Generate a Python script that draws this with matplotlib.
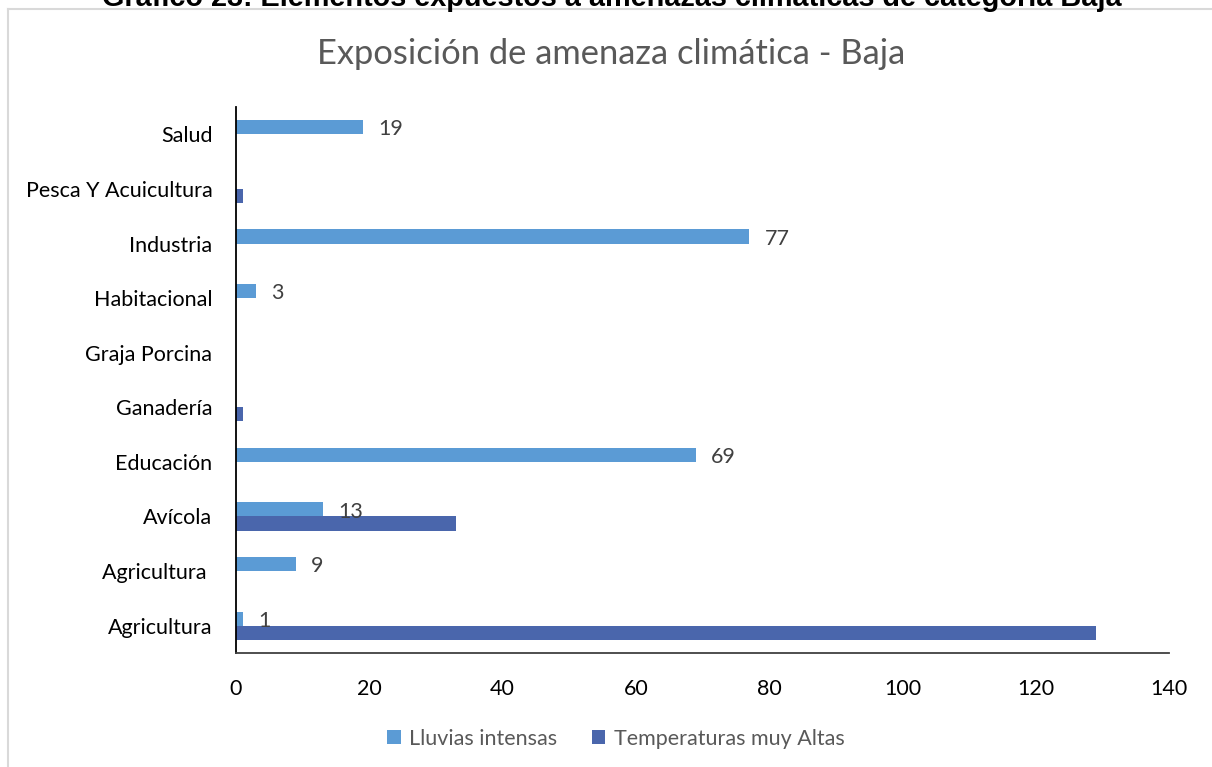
import numpy as np
import matplotlib
matplotlib.use("Agg")
import matplotlib.pyplot as plt
from matplotlib.lines import Line2D
from matplotlib.patches import Patch

categories = ["Agricultura", "Agricultura ", "Avícola", "Educación", "Ganadería",
              "Graja Porcina", "Habitacional", "Industria", "Pesca Y Acuicultura", "Salud"]
lluvias = [1, 9, 13, 69, np.nan, np.nan, 3, 77, np.nan, 19]
temperaturas = [129, np.nan, 33, np.nan, 1, np.nan, np.nan, np.nan, 1, np.nan]
xticks = [0, 20, 40, 60, 80, 100, 120, 140]
series_names = ["Lluvias intensas", "Temperaturas muy Altas"]
chart_title = "Exposición de amenaza climática - Baja"
doc_title = "Gráfico 23: Elementos expuestos a amenazas climáticas de categoría Baja"

c_light = "#5B9BD5"
c_dark = "#4A66AC"
FS = 15.5

W, H = 1212, 767
fig = plt.figure(figsize=(W / 100, H / 100), dpi=100)
fig.patch.set_facecolor("white")

# outer chart frame (left and top edges visible)
fig.add_artist(Line2D([7.5 / W, 7.5 / W], [0, 1 - 9 / H], transform=fig.transFigure,
                      color="#d9d9d9", lw=1.5))
fig.add_artist(Line2D([7.5 / W, 1], [1 - 9 / H, 1 - 9 / H], transform=fig.transFigure,
                      color="#d9d9d9", lw=1.5))

# document caption, cut by the top edge
fig.text(612 / W, 1 - 6 / H, doc_title, ha="center", va="baseline",
         fontsize=20.8, fontweight="bold", family="Liberation Sans", color="black")

ax = fig.add_axes([236 / W, 1 - 653 / H, (1169 - 236) / W, (653 - 107) / H])
y = np.arange(len(categories))
h = 0.26
ax.barh(y + h / 2, lluvias, height=h, color=c_light, label=series_names[0])
ax.barh(y - h / 2, temperaturas, height=h, color=c_dark, label=series_names[1])

for yi, v in zip(y, lluvias):
    if not np.isnan(v):
        ax.text(v + 2.3, yi + h / 2 - 0.04, f"{v:g}", va="center", ha="left",
                fontsize=FS, family="Lato", color="#404040")

ax.set_xlim(0, 140)
ax.set_ylim(-0.5, len(categories) - 0.5)
ax.set_xticks(xticks)
ax.set_xticklabels([str(t) for t in xticks], fontsize=FS, family="Lato", color="black")
ax.set_yticks(y)
ax.set_yticklabels(categories, fontsize=FS, family="Lato", color="black")
ax.tick_params(axis="both", length=0)
ax.tick_params(axis="x", pad=19)
ax.tick_params(axis="y", pad=17)
for s in ["top", "right"]:
    ax.spines[s].set_visible(False)
ax.spines["left"].set_color("black")
ax.spines["left"].set_linewidth(1.3)
ax.spines["bottom"].set_color("#404040")
ax.spines["bottom"].set_linewidth(1.3)

fig.text(611 / W, 1 - 54 / H, chart_title, ha="center", va="center",
         fontsize=24.8, family="Lato", color="#595959")

handles = [Patch(facecolor=c_light, label=series_names[0]),
           Patch(facecolor=c_dark, label=series_names[1])]
fig.legend(handles=handles, loc="center", bbox_to_anchor=(616 / W, 1 - 739 / H), ncol=2,
           frameon=False, prop={"family": "Lato", "size": FS}, labelcolor="#595959",
           handlelength=0.62, handleheight=0.62, handletextpad=0.4, columnspacing=1.6)

fig.savefig("out.png", dpi=100, facecolor="white")
